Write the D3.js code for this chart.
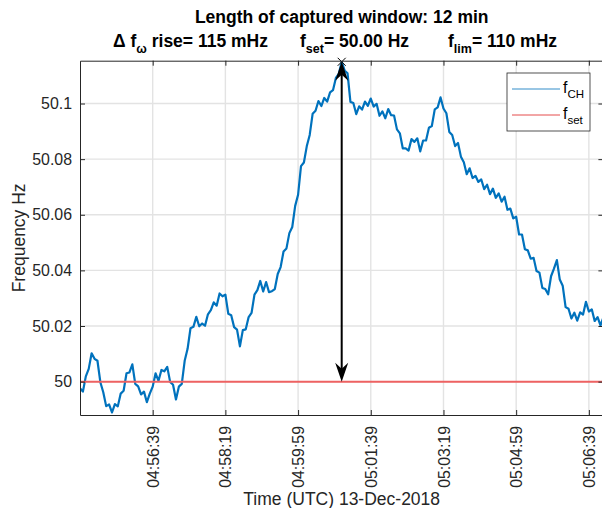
<!DOCTYPE html>
<html>
<head>
<meta charset="utf-8">
<script src="https://cdn.jsdelivr.net/npm/d3@7"></script>
<style>
  body { margin: 0; background: #fff; }
  svg { font-family: "Liberation Sans", Arial, sans-serif; }
</style>
</head>
<body>
<div id="chart"></div>
<script>
// captured window, 4 s sampling
const startTime = "04:54:59";
const sampleStepSec = 4;
const windowSec = 720;
const fSet = 50.00;

// frequency deviation from f_set in mHz
const fDevMilliHz = [
  -2.4, -3.6, 1.9, 4.6, 10.2, 8.2, 7.5, -0.2, -3.8, -8.8,
  -8.2, -11.1, -8.1, -8.9, -4.3, -3.3, 3.0, 3.3, 6.2, -0.8,
  -1.7, -4.6, -3.6, -7.4, -4.3, -1.8, 3.0, 0.3, 4.2, 3.7,
  5.3, -0.1, -1.1, -6.4, -1.8, -0.8, 7.5, 11.8, 19.2, 19.7,
  23.3, 19.9, 20.9, 20.1, 24.2, 25.7, 28.5, 27.3, 31.7, 30.7,
  31.3, 24.4, 23.9, 19.6, 18.7, 12.7, 18.5, 18.8, 23.2, 24.7,
  31.3, 32.9, 36.2, 32.4, 35.8, 32.2, 32.5, 33.3, 38.7, 41.2,
  46.8, 47.9, 53.4, 55.6, 63.2, 67.2, 77.5, 78.8, 84.7, 88.7,
  96.3, 97.4, 100.9, 99.1, 102.0, 100.7, 104.0, 104.8, 109.2, 110.7,
  115.0, 111.9, 110.9, 100.6, 100.2, 96.2, 99.0, 97.8, 100.7, 99.2,
  101.8, 98.9, 99.9, 95.6, 97.2, 94.7, 98.0, 95.8, 95.7, 90.7,
  89.3, 83.9, 83.9, 83.1, 87.2, 86.2, 87.5, 82.8, 86.7, 86.7,
  91.3, 91.9, 97.9, 98.6, 102.2, 98.2, 96.5, 89.8, 88.7, 84.7,
  85.8, 80.9, 78.9, 74.6, 76.7, 73.2, 74.0, 71.8, 72.7, 69.2,
  70.8, 67.4, 69.4, 66.1, 67.7, 64.7, 66.5, 61.8, 62.2, 58.7,
  59.3, 52.9, 52.9, 47.6, 47.2, 44.2, 44.5, 39.8, 39.2, 33.7,
  33.3, 31.4, 37.9, 40.6, 43.7, 36.7, 34.5, 26.8, 26.2, 22.7,
  24.8, 21.9, 24.9, 24.1, 28.7, 25.2, 26.0, 21.8, 23.2, 20.2,
  23.1
];

const xTickLabels = ["04:56:39", "04:58:19", "04:59:59", "05:01:39", "05:03:19", "05:04:59", "05:06:39"];
const yTicks = [50, 50.02, 50.04, 50.06, 50.08, 50.1];
const yDomain = [49.988, 50.1154];

// rise arrow
const riseTime = "05:00:59";
const riseTop = 50.115;
const riseMilliHz = 115;
const fLimMilliHz = 110;
const windowMin = 12;

const legendItems = [
  { name: "f", sub: "CH", color: "#0072BD" },
  { name: "f", sub: "set", color: "#e02020" }
];

const W = 602, H = 508;
const plot = { left: 80, right: 603.4, top: 60.7, bottom: 415 };

const parseT = d3.timeParse("%H:%M:%S");
const t0 = parseT(startTime);

const data = fDevMilliHz.map((d, i) => ({
  t: new Date(t0.getTime() + i * sampleStepSec * 1000),
  f: fSet + d / 1000
}));

const x = d3.scaleTime()
  .domain([t0, new Date(t0.getTime() + windowSec * 1000)])
  .range([plot.left, plot.right]);

const y = d3.scaleLinear()
  .domain(yDomain)
  .range([plot.bottom, plot.top]);

const svg = d3.select("#chart")
  .append("svg")
  .attr("width", W)
  .attr("height", H);

svg.append("defs").append("clipPath")
  .attr("id", "clip")
  .append("rect")
  .attr("x", plot.left)
  .attr("y", plot.top)
  .attr("width", plot.right - plot.left)
  .attr("height", plot.bottom - plot.top);

const xTicks = xTickLabels.map(parseT);

// grid
const grid = svg.append("g").attr("stroke", "#e3e3e3").attr("stroke-width", 1.4);
grid.selectAll(".gx")
  .data(xTicks)
  .join("line")
  .attr("x1", d => x(d)).attr("x2", d => x(d))
  .attr("y1", plot.top).attr("y2", plot.bottom);
grid.selectAll(".gy")
  .data(yTicks)
  .join("line")
  .attr("x1", plot.left).attr("x2", plot.right)
  .attr("y1", d => y(d)).attr("y2", d => y(d));

const body = svg.append("g").attr("clip-path", "url(#clip)");

// frequency trace
body.append("path")
  .datum(data)
  .attr("fill", "none")
  .attr("stroke", "#0072BD")
  .attr("stroke-width", 2.2)
  .attr("stroke-linejoin", "round")
  .attr("d", d3.line().x(d => x(d.t)).y(d => y(d.f)));

// set point
body.append("line")
  .attr("x1", plot.left).attr("x2", plot.right)
  .attr("y1", y(fSet)).attr("y2", y(fSet))
  .attr("stroke", "#ee6262")
  .attr("stroke-width", 2);

// rise arrow
const ax = x(parseT(riseTime));
const aTop = y(riseTop), aBot = y(fSet);
svg.append("line")
  .attr("x1", ax).attr("x2", ax)
  .attr("y1", aTop + 10).attr("y2", aBot - 10)
  .attr("stroke", "#000")
  .attr("stroke-width", 2);
svg.append("path")
  .attr("d", `M${ax},${aTop} L${ax + 6.5},${aTop + 19} L${ax},${aTop + 13} L${ax - 6.5},${aTop + 19} Z`)
  .attr("fill", "#000");
svg.append("path")
  .attr("d", `M${ax},${aBot} L${ax + 6.5},${aBot - 19} L${ax},${aBot - 13} L${ax - 6.5},${aBot - 19} Z`)
  .attr("fill", "#000");
svg.append("path")
  .attr("d", `M${ax - 4},${aTop - 4} L${ax + 4},${aTop + 4} M${ax - 4},${aTop + 4} L${ax + 4},${aTop - 4}`)
  .attr("stroke", "#000")
  .attr("stroke-width", 1);

// axes
const xAxis = svg.append("g")
  .attr("transform", `translate(0,${plot.bottom})`)
  .call(d3.axisBottom(x).tickValues(xTicks).tickFormat(d3.timeFormat("%H:%M:%S"))
    .tickSizeInner(-5).tickSizeOuter(0));
xAxis.selectAll("text")
  .attr("transform", "rotate(-90)")
  .attr("x", -11)
  .attr("y", 0)
  .attr("dy", "0.35em")
  .attr("text-anchor", "end");

svg.append("g")
  .attr("transform", `translate(0,${plot.top})`)
  .call(d3.axisTop(x).tickValues(xTicks).tickFormat("").tickSizeInner(-5).tickSizeOuter(0));

const yAxis = svg.append("g")
  .attr("transform", `translate(${plot.left},0)`)
  .call(d3.axisLeft(y).tickValues(yTicks).tickFormat(d => d3.format("~g")(d))
    .tickSizeInner(-5).tickSizeOuter(0).tickPadding(8));

svg.append("g")
  .attr("transform", `translate(${plot.right},0)`)
  .call(d3.axisRight(y).tickValues(yTicks).tickFormat("").tickSizeInner(-5).tickSizeOuter(0));

svg.selectAll(".domain").attr("stroke", "#262626");
svg.selectAll(".tick line").attr("stroke", "#262626");
svg.selectAll(".tick text")
  .attr("fill", "#262626")
  .style("font-size", "15.9px")
  .style("font-family", "'Liberation Sans', Arial, sans-serif");

// axis labels
svg.append("text")
  .attr("x", (plot.left + plot.right) / 2)
  .attr("y", 505)
  .attr("text-anchor", "middle")
  .attr("fill", "#262626")
  .style("font-size", "17.5px")
  .text("Time (UTC) 13-Dec-2018");

svg.append("text")
  .attr("transform", `translate(25,${(plot.top + plot.bottom) / 2}) rotate(-90)`)
  .attr("text-anchor", "middle")
  .attr("fill", "#262626")
  .style("font-size", "17.5px")
  .text("Frequency Hz");

// title
svg.append("text")
  .attr("x", (plot.left + plot.right) / 2)
  .attr("y", 23)
  .attr("text-anchor", "middle")
  .style("font-size", "17.5px")
  .style("font-weight", "bold")
  .text(`Length of captured window: ${windowMin} min`);

function subText(g, xPos, main, sub, rest) {
  const t = g.append("text")
    .attr("x", xPos)
    .attr("y", 47)
    .style("font-size", "17.5px")
    .style("font-weight", "bold");
  t.append("tspan").text(main);
  t.append("tspan").attr("dy", 6).style("font-size", "12.5px").text(sub);
  t.append("tspan").attr("dy", -6).text(rest);
}
const title2 = svg.append("g");
subText(title2, 113, "\u0394 f", "\u03c9", ` rise= ${riseMilliHz} mHz`);
subText(title2, 300, "f", "set", `= ${fSet.toFixed(2)} Hz`);
subText(title2, 448, "f", "lim", `= ${fLimMilliHz} mHz`);

// legend
const leg = svg.append("g");
leg.append("rect")
  .attr("x", 507).attr("y", 73)
  .attr("width", 83).attr("height", 58)
  .attr("fill", "#fff")
  .attr("stroke", "#262626")
  .attr("stroke-width", 0.8);
legendItems.forEach((d, i) => {
  const ly = 89 + i * 26;
  leg.append("line")
    .attr("x1", 512).attr("x2", 560)
    .attr("y1", ly).attr("y2", ly)
    .attr("stroke", d.color)
    .attr("stroke-width", 1)
    .attr("opacity", 0.8);
  const t = leg.append("text")
    .attr("x", 563).attr("y", ly + 4)
    .attr("fill", "#000")
    .style("font-size", "15.9px");
  t.append("tspan").text(d.name);
  t.append("tspan").attr("dy", 5).style("font-size", "11.5px").text(d.sub);
});
</script>
</body>
</html>
